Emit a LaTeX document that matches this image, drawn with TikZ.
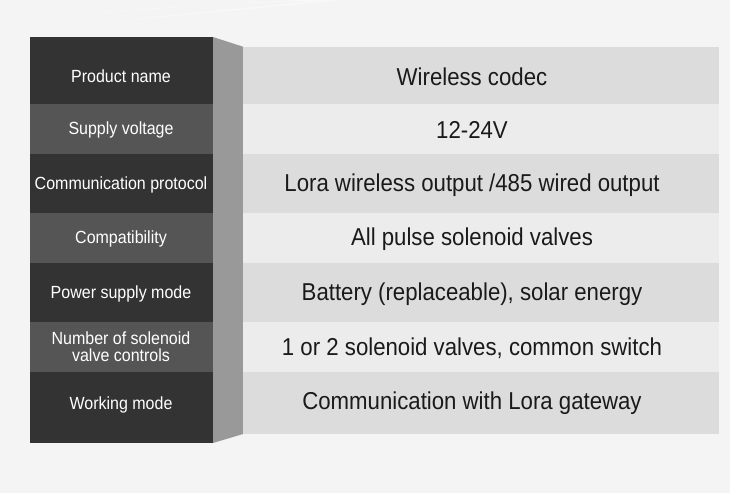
\documentclass[tikz,border=0pt]{standalone}
\usepackage{fontspec}
\setmainfont{Liberation Sans}
\definecolor{bgc}{HTML}{F4F4F4}
\definecolor{darkA}{HTML}{333333}
\definecolor{darkB}{HTML}{555555}
\definecolor{sidec}{HTML}{999999}
\definecolor{rowA}{HTML}{DCDCDC}
\definecolor{rowB}{HTML}{ECECEC}
\definecolor{txt}{HTML}{1A1A1A}
\newcommand\vstretch[1]{\scalebox{1}[1.1]{#1}}
\tikzset{
  lab/.style={text=white, font=\fontsize{16}{17.5}\selectfont, align=center, inner sep=0pt},
  val/.style={text=txt, font=\fontsize{22.2}{24}\selectfont, inner sep=0pt},
}
\begin{document}
\begin{tikzpicture}[x=1pt,y=-1pt]
\useasboundingbox (0,0) rectangle (750,495);
\fill[white] (0,0) rectangle (750,495);
\fill[bgc] (0,0) rectangle (730,493);
% faint streaks at top
\fill[white,opacity=0.6] (70,14) .. controls (180,6) and (260,2) .. (330,0) -- (300,0) .. controls (220,4) and (150,9) .. (70,14) -- cycle;
\fill[white,opacity=0.4] (100,22) .. controls (200,14) and (280,6) .. (340,0) -- (320,0) .. controls (250,8) and (180,14) .. (100,22) -- cycle;
% left column cells
\fill[darkA] (30,37) rectangle (213,104);
\fill[darkB] (30,104) rectangle (213,154);
\fill[darkA] (30,154) rectangle (213,213);
\fill[darkB] (30,213) rectangle (213,263);
\fill[darkA] (30,263) rectangle (213,322);
\fill[darkB] (30,322) rectangle (213,372);
\fill[darkA] (30,372) rectangle (213,443);
% side panel
\fill[sidec] (213,37) -- (243,46.7) -- (243,434) -- (213,443) -- cycle;
% right column rows
\fill[rowA] (243,46.7) rectangle (719,104);
\fill[rowB] (243,104) rectangle (719,154);
\fill[rowA] (243,154) rectangle (719,213);
\fill[rowB] (243,213) rectangle (719,263);
\fill[rowA] (243,263) rectangle (719,322);
\fill[rowB] (243,322) rectangle (719,372);
\fill[rowA] (243,372) rectangle (719,434);
% labels
\node[lab] (l1) at (121,76) {\vstretch{Product name}};
\node[lab] (l2) at (121,130) {\vstretch{Supply voltage}};
\node[lab] (l3) at (121,184.5) {\vstretch{Communication protocol}};
\node[lab] (l4) at (121,239) {\vstretch{Compatibility}};
\node[lab] (l5) at (121,293.5) {\vstretch{Power supply mode}};
\node[lab] (l6) at (121,346.5) {\vstretch{Number of solenoid}\\\vstretch{valve controls}};
\node[lab] (l7) at (121,404.5) {\vstretch{Working mode}};
% values
\node[val] (v1) at (472,77) {\vstretch{Wireless codec}};
\node[val] (v2) at (472,130) {\vstretch{12-24V}};
\node[val] (v3) at (472,185) {\vstretch{Lora wireless output /485 wired output}};
\node[val] (v4) at (472,239.5) {\vstretch{All pulse solenoid valves}};
\node[val] (v5) at (472,294) {\vstretch{Battery (replaceable), solar energy}};
\node[val] (v6) at (472,348) {\vstretch{1 or 2 solenoid valves, common switch}};
\node[val] (v7) at (472,403) {\vstretch{Communication with Lora gateway}};
\end{tikzpicture}
\end{document}
